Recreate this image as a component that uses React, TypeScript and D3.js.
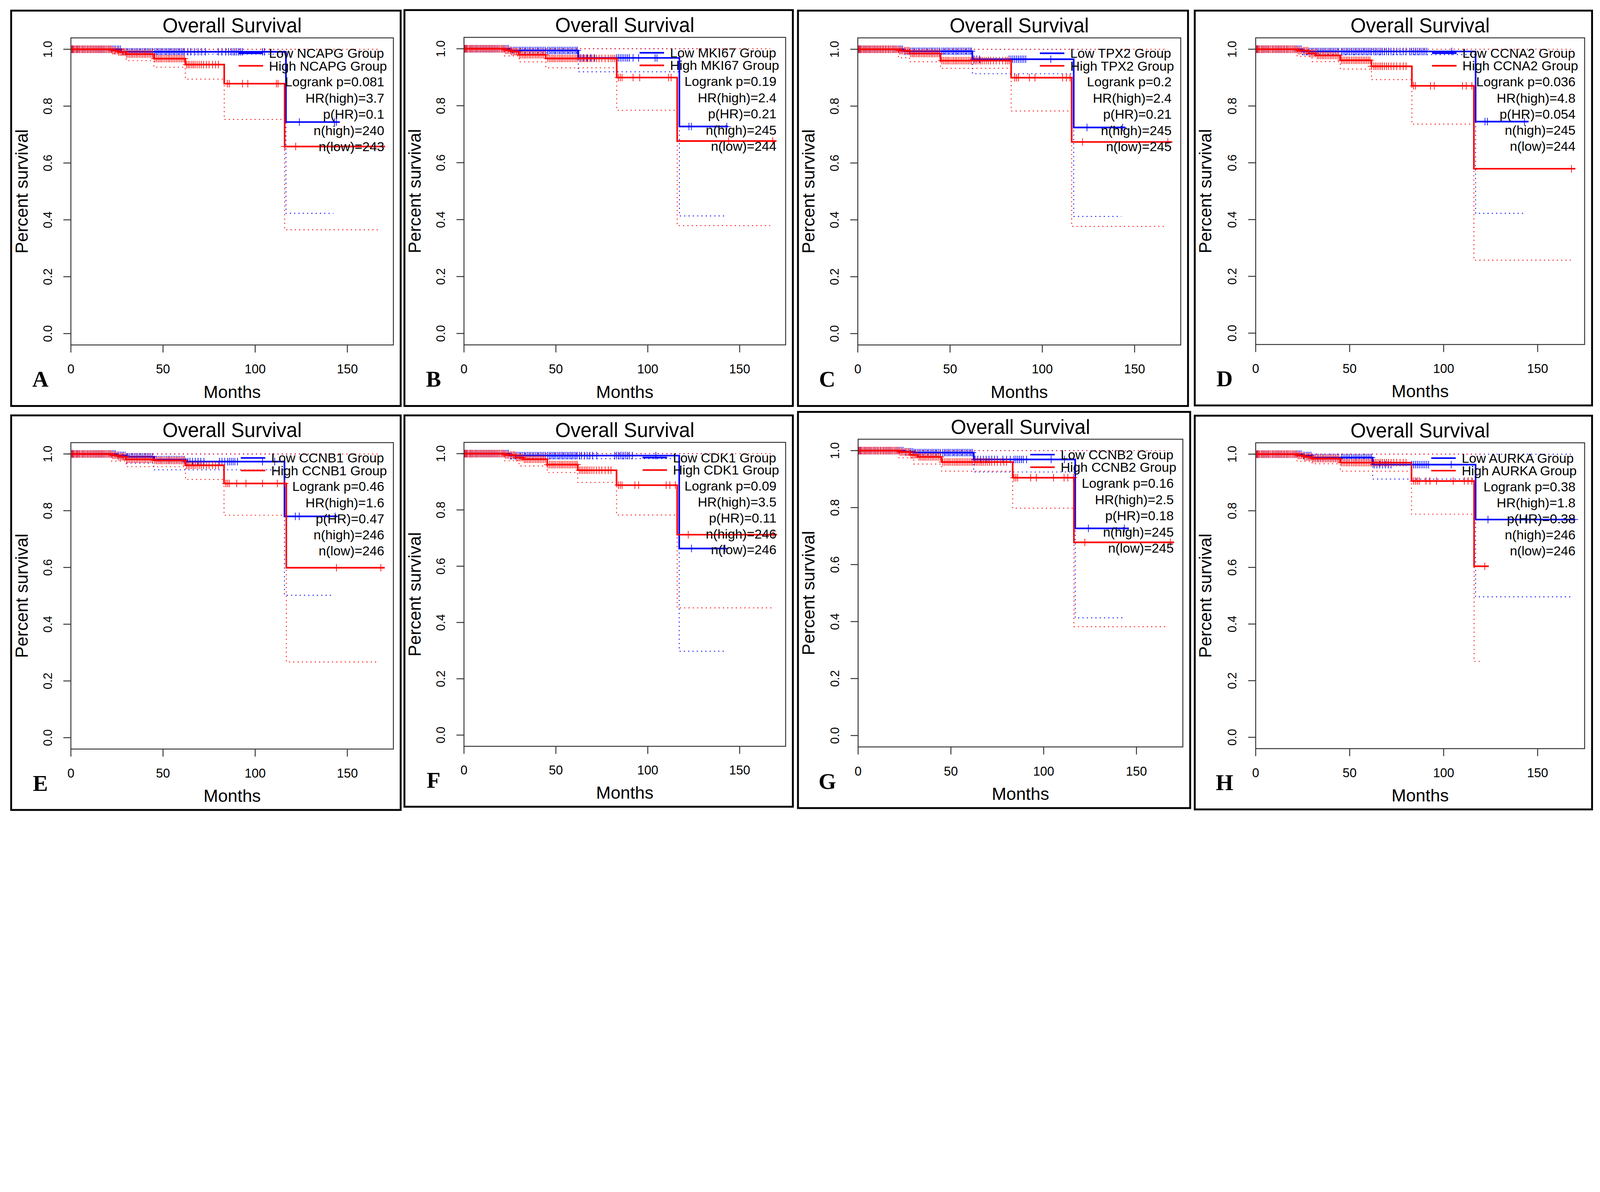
import * as d3 from "d3";

// ---- data ----
const genes = ["NCAPG", "MKI67", "TPX2", "CCNA2", "CCNB1", "CDK1", "CCNB2", "AURKA"];
const letters = ["A", "B", "C", "D", "E", "F", "G", "H"];
const logrankP = ["0.081", "0.19", "0.2", "0.036", "0.46", "0.09", "0.16", "0.38"];
const hrHigh = ["3.7", "2.4", "2.4", "4.8", "1.6", "3.5", "2.5", "1.8"];
const pHR = ["0.1", "0.21", "0.21", "0.054", "0.47", "0.11", "0.18", "0.38"];
const nHigh = [240, 245, 245, 245, 246, 246, 245, 246];
const nLow = [243, 244, 245, 244, 246, 246, 245, 246];

// Kaplan-Meier steps: [month, survival from that month on]
const lowSteps = [
  [[0, 1], [27, 0.991], [116.7, 0.744]],
  [[0, 1], [25, 0.994], [62.2, 0.968], [117.2, 0.727]],
  [[0, 1], [25, 0.993], [62.1, 0.965], [117, 0.725]],
  [[0, 1], [25, 0.992], [117, 0.745]],
  [[0, 1], [25, 0.995], [30, 0.99], [45, 0.98], [62, 0.973], [115.9, 0.78]],
  [[0, 1], [25, 0.993], [117.1, 0.663]],
  [[0, 1], [25, 0.996], [30, 0.993], [62.3, 0.969], [117, 0.727]],
  [[0, 1], [25, 0.995], [30, 0.988], [62.2, 0.963], [117, 0.769]],
];
const lowEnd = [145.9, 143.6, 144.9, 145.2, 144.6, 142.7, 145.9, 170];

const highSteps = [
  [[0, 1], [22, 0.995], [26, 0.99], [30, 0.983], [45, 0.967], [62.1, 0.946], [83.2, 0.879], [116, 0.658]],
  [[0, 1], [22, 0.995], [26, 0.99], [30, 0.979], [44.5, 0.966], [83.1, 0.899], [116, 0.676]],
  [[0, 1], [22, 0.995], [28, 0.985], [44.8, 0.96], [83.1, 0.9], [115.9, 0.674]],
  [[0, 1], [22, 0.995], [28, 0.985], [32, 0.978], [45, 0.961], [61.6, 0.94], [83.1, 0.871], [116.1, 0.579]],
  [[0, 1], [22, 0.995], [26, 0.99], [30, 0.981], [45, 0.977], [62.2, 0.96], [83.1, 0.896], [116.9, 0.599]],
  [[0, 1], [22, 0.995], [28, 0.986], [32, 0.98], [45.3, 0.961], [61.9, 0.941], [83, 0.888], [116, 0.712]],
  [[0, 1], [22, 0.995], [28, 0.985], [32, 0.978], [45, 0.96], [83.3, 0.905], [116.3, 0.678]],
  [[0, 1], [22, 0.995], [26, 0.99], [30, 0.984], [45, 0.97], [82.9, 0.905], [116.2, 0.604]],
];
const highEnd = [170.5, 170, 170.4, 170.1, 170.3, 170.3, 170.2, 124];

// lower 95% confidence bound (upper bound stays at 1.0)
const lowCI = [
  [[0, 1], [27, 0.983], [116.7, 0.423]],
  [[0, 1], [25, 0.986], [62.2, 0.919], [117.2, 0.413]],
  [[0, 1], [25, 0.985], [62.1, 0.914], [117, 0.412]],
  [[0, 1], [25, 0.981], [117, 0.422]],
  [[0, 1], [25, 0.985], [30, 0.968], [45, 0.944], [115.9, 0.502]],
  [[0, 1], [25, 0.982], [117.1, 0.298]],
  [[0, 1], [25, 0.985], [62.3, 0.925], [117, 0.413]],
  [[0, 1], [25, 0.985], [62.2, 0.912], [117, 0.496]],
];
const lowCIEnd = [142.4, 142.9, 142.8, 142.4, 142.5, 142.4, 143.1, 167.8];

const highCI = [
  [[0, 1], [22, 0.985], [30, 0.96], [45, 0.937], [62.1, 0.895], [83.2, 0.753], [116, 0.365]],
  [[0, 1], [22, 0.975], [30, 0.954], [44.5, 0.933], [83.1, 0.784], [116, 0.379]],
  [[0, 1], [22, 0.97], [28, 0.956], [44.8, 0.933], [83.1, 0.783], [115.9, 0.377]],
  [[0, 1], [22, 0.975], [30, 0.956], [45, 0.93], [61.6, 0.893], [83.1, 0.736], [116.1, 0.257]],
  [[0, 1], [22, 0.975], [30, 0.955], [62.2, 0.91], [83.1, 0.784], [116.9, 0.267]],
  [[0, 1], [22, 0.975], [30, 0.956], [45.3, 0.933], [61.9, 0.898], [83, 0.782], [116, 0.452]],
  [[0, 1], [22, 0.975], [30, 0.953], [45, 0.928], [83.3, 0.798], [116.3, 0.382]],
  [[0, 1], [22, 0.975], [30, 0.966], [45, 0.94], [82.9, 0.788], [116.2, 0.268]],
];
const highCIEnd = [167.5, 166.6, 166.9, 167.6, 166.8, 168.2, 167.2, 120.5];

// censoring times (months); the dense early stretches look alike in every panel
const earlyCensor = [0.5, 1, 1.5, 2.2, 3, 3.6, 4.3, 5, 5.8, 6.5, 7.2, 8, 8.8, 9.5, 10.3, 11, 11.8, 12.5, 13.3, 14, 14.8, 15.5, 16.3, 17, 17.8, 18.6, 19.4, 20.2, 21, 21.8, 22.6, 23.4, 24.2];
const band25to45 = [25.2, 26, 26.9, 27.7, 28.5, 29.4, 30.2, 31, 31.9, 32.8, 33.6, 34.5, 35.4, 36.2, 37.1, 38, 38.9, 39.8, 40.6, 41.5, 42.4, 43.3, 44.2];
const band45to62 = [45.6, 46.5, 47.4, 48.3, 49.1, 50, 51, 51.9, 52.8, 53.6, 54.5, 55.4, 56.3, 57.2, 58.1, 59, 59.9, 60.8, 61.6];
const band62to80 = [62.8, 63.7, 64.6, 65.6, 66.5, 67.4, 68.5, 69.6, 70.7, 72, 73.5, 75, 76.8, 78.5, 80];

const lowCensor = [
  [...earlyCensor, ...band25to45, ...band45to62, 63.5, 65, 67, 69, 71, 73, 80, 82, 84, 85.5, 87, 88, 89, 90, 91, 92, 93, 104, 105, 124, 143, 144],
  [...earlyCensor, ...band25to45, ...band45to62, 63.5, 65, 67, 69, 71, 83, 84, 85, 86, 87, 88, 89, 90, 92, 95, 104, 105, 122.4, 123.7, 143],
  [...earlyCensor, ...band25to45, ...band45to62, 63, 64.5, 66, 82, 83, 84, 85, 86, 87, 88, 89, 90, 91, 104.6, 124.2, 143.5],
  [...earlyCensor, ...band25to45, ...band45to62, ...band62to80, 82, 83, 84, 85, 86, 87, 88, 89, 90, 91, 104.3, 122, 123.3, 143],
  [...earlyCensor, ...band25to45, ...band45to62, 62.4, 63.5, 64.6, 66, 67.5, 69, 70.5, 72.2, 80.6, 82, 83.5, 85, 86, 87, 88, 89, 90.4, 104, 110.6, 121.8, 123.9, 143.4],
  [...earlyCensor, ...band25to45, ...band45to62, 62.8, 64, 65.5, 67, 68.5, 70, 72.2, 82, 83, 84, 85, 86, 87, 88, 89, 90, 91.6, 104.4, 123.8, 142],
  [...earlyCensor, ...band25to45, ...band45to62, 63, 64.5, 66, 67.5, 69, 70.5, 72, 73.5, 75, 78, 80, 82, 84, 85, 86, 87, 88, 89, 90.8, 104, 111.2, 124.1, 143.5],
  [...earlyCensor, ...band25to45, ...band45to62, 63, 64.5, 66, 67.5, 69, 70.5, 72, 83, 84, 85, 86, 87, 88, 89, 90, 91, 92, 104, 123.6, 143.7, 169.5],
];
const highCensor = [
  [...earlyCensor, ...band25to45, ...band45to62, ...band62to80, 84.9, 85.9, 93.1, 96, 111.5, 112.4, 116, 122],
  [...earlyCensor, ...band25to45, ...band45to62, ...band62to80, 81, 82, 84, 85, 86, 92, 95.6, 111.3, 112.7, 144, 168],
  [...earlyCensor, ...band25to45, ...band45to62, ...band62to80, 81, 82, 85, 86, 87, 93, 96, 111, 113, 115, 121.8, 168],
  [...earlyCensor, ...band25to45, ...band45to62, ...band62to80, 84, 85, 93, 95, 110, 112, 115, 168],
  [...earlyCensor, ...band25to45, ...band45to62, ...band62to80, 84.1, 85, 85.9, 90, 95, 104, 112, 116, 144.1, 168.2],
  [...earlyCensor, ...band25to45, ...band45to62, ...band62to80, 84, 85, 86, 93, 95, 110, 112, 115, 122, 168.2],
  [...earlyCensor, ...band25to45, ...band45to62, ...band62to80, 84, 85, 86, 93, 96, 105.3, 111, 113, 116, 122.2, 168.3],
  [...earlyCensor, ...band25to45, ...band45to62, ...band62to80, 84, 85, 86, 87, 90.6, 92.7, 96.2, 105.1, 111, 113, 115, 121.9],
];

const xTicks = [0, 50, 100, 150];
const yTicks = [0, 0.2, 0.4, 0.6, 0.8, 1.0];

// ---- layout (outer edges of each framed panel) ----
const panelRects = [
  { x: 38, y: 36, w: 1455, h: 1477 },
  { x: 1500, y: 34, w: 1451, h: 1479 },
  { x: 2963, y: 36, w: 1457, h: 1477 },
  { x: 4438, y: 36, w: 1484, h: 1475 },
  { x: 38, y: 1541, w: 1455, h: 1474 },
  { x: 1500, y: 1541, w: 1451, h: 1462 },
  { x: 2963, y: 1528, w: 1465, h: 1480 },
  { x: 4438, y: 1542, w: 1484, h: 1471 },
];

const W = 5948;
const H = 3052;
const SANS = '"Liberation Sans", Arial, Helvetica, sans-serif';
const SERIF = '"Liberation Serif", "Times New Roman", serif';
const BLUE = "#0000ff";
const RED = "#ff0000";
const LEGEND_SIZE = 49;

let measureCtx: CanvasRenderingContext2D | null = null;
function textWidth(s: string, size: number) {
  if (!measureCtx) measureCtx = document.createElement("canvas").getContext("2d");
  if (!measureCtx) return s.length * size * 0.55;
  measureCtx.font = `${size}px "Liberation Sans"`;
  return measureCtx.measureText(s).width;
}

function survAt(steps: number[][], t: number) {
  let s = steps[0][1];
  for (const [tt, v] of steps) if (tt <= t) s = v;
  return s;
}

const stepLine = d3.line().curve(d3.curveStepAfter);

function Group({ steps, end, ci, ciEnd, censor, color, xs, ys }: any) {
  const curve = [...steps, [end, steps[steps.length - 1][1]]].map(([t, v]: number[]) => [xs(t), ys(v)]);
  const lower = [...ci, [ciEnd, ci[ci.length - 1][1]]].map(([t, v]: number[]) => [xs(t), ys(v)]);
  const upper = [[xs(0), ys(1)], [xs(ciEnd), ys(1)]];
  const marks = censor.filter((t: number) => t <= end);
  const half = 14;
  return (
    <g>
      <path d={stepLine(lower as any) || ""} fill="none" stroke={color} strokeWidth={3.2} strokeDasharray="4 12" />
      <path d={stepLine(upper as any) || ""} fill="none" stroke={color} strokeWidth={3.2} strokeDasharray="4 12" />
      <path d={stepLine(curve as any) || ""} fill="none" stroke={color} strokeWidth={6} />
      {marks.map((t: number, k: number) => {
        const cx = xs(t);
        const cy = ys(survAt(steps, t));
        return (
          <g key={k} stroke={color} strokeWidth={2.5}>
            <line x1={cx} x2={cx} y1={cy - half} y2={cy + half} />
            <line x1={cx - half} x2={cx + half} y1={cy} y2={cy} />
          </g>
        );
      })}
    </g>
  );
}

function Panel({ i }: { i: number }) {
  const r = panelRects[i];
  const bl = r.x + r.w * 0.155;
  const br = r.x + r.w * 0.979;
  const bt = r.y + r.h * 0.071;
  const bb = r.y + r.h * 0.844;
  const bw = br - bl;
  const bh = bb - bt;
  const xs = d3.scaleLinear().domain([0, 175]).range([bl, br]);
  const ys = d3.scaleLinear().domain([-0.04, 1.04]).range([bb, bt]);
  const tickLen = 28;

  const lowLabel = `Low ${genes[i]} Group`;
  const highLabel = `High ${genes[i]} Group`;
  const legW = Math.max(textWidth(lowLabel, LEGEND_SIZE), textWidth(highLabel, LEGEND_SIZE));
  const legX = br - 24 - legW;
  const rows = [0.05, 0.091, 0.143, 0.196, 0.248, 0.301, 0.353].map((f) => bt + f * bh);
  const stats = [
    `Logrank p=${logrankP[i]}`,
    `HR(high)=${hrHigh[i]}`,
    `p(HR)=${pHR[i]}`,
    `n(high)=${nHigh[i]}`,
    `n(low)=${nLow[i]}`,
  ];
  const yLabX = bl - 0.0715 * bw;
  const yTitleX = bl - 0.1535 * bw;

  return (
    <g>
      <rect x={r.x + 3.5} y={r.y + 3.5} width={r.w - 7} height={r.h - 7} fill="none" stroke="#000" strokeWidth={7} />
      <text x={(bl + br) / 2} y={bt - 0.04 * bh} textAnchor="middle" dominantBaseline="central" fontFamily={SANS} fontSize={74}>
        Overall Survival
      </text>
      <Group steps={lowSteps[i]} end={lowEnd[i]} ci={lowCI[i]} ciEnd={lowCIEnd[i]} censor={lowCensor[i]} color={BLUE} xs={xs} ys={ys} />
      <Group steps={highSteps[i]} end={highEnd[i]} ci={highCI[i]} ciEnd={highCIEnd[i]} censor={highCensor[i]} color={RED} xs={xs} ys={ys} />
      <rect x={bl} y={bt} width={bw} height={bh} fill="none" stroke="#333" strokeWidth={3.5} />
      {xTicks.map((t) => (
        <g key={t}>
          <line x1={xs(t)} x2={xs(t)} y1={bb} y2={bb + tickLen} stroke="#333" strokeWidth={3.5} />
          <text x={xs(t)} y={bb + 0.079 * bh} textAnchor="middle" dominantBaseline="central" fontFamily={SANS} fontSize={47}>
            {t}
          </text>
        </g>
      ))}
      {yTicks.map((t) => (
        <g key={t}>
          <line x1={bl} x2={bl - tickLen} y1={ys(t)} y2={ys(t)} stroke="#333" strokeWidth={3.5} />
          <text
            transform={`translate(${yLabX},${ys(t)}) rotate(-90)`}
            textAnchor="middle"
            dominantBaseline="central"
            fontFamily={SANS}
            fontSize={45}
          >
            {d3.format(".1f")(t)}
          </text>
        </g>
      ))}
      <text x={(bl + br) / 2} y={bb + 0.152 * bh} textAnchor="middle" dominantBaseline="central" fontFamily={SANS} fontSize={65}>
        Months
      </text>
      <text
        transform={`translate(${yTitleX},${(bt + bb) / 2}) rotate(-90)`}
        textAnchor="middle"
        dominantBaseline="central"
        fontFamily={SANS}
        fontSize={65}
      >
        Percent survival
      </text>
      {/* legend */}
      <line x1={legX - 113} x2={legX - 22} y1={rows[0]} y2={rows[0]} stroke={BLUE} strokeWidth={6} />
      <line x1={legX - 113} x2={legX - 22} y1={rows[1]} y2={rows[1]} stroke={RED} strokeWidth={6} />
      <text x={legX} y={rows[0]} dominantBaseline="central" fontFamily={SANS} fontSize={LEGEND_SIZE}>
        {lowLabel}
      </text>
      <text x={legX} y={rows[1]} dominantBaseline="central" fontFamily={SANS} fontSize={LEGEND_SIZE}>
        {highLabel}
      </text>
      {stats.map((s, k) => (
        <text key={s} x={br - 34} y={rows[k + 2]} textAnchor="end" dominantBaseline="central" fontFamily={SANS} fontSize={LEGEND_SIZE}>
          {s}
        </text>
      ))}
      <text
        x={r.x + 0.077 * r.w}
        y={r.y + 0.93 * r.h}
        textAnchor="middle"
        dominantBaseline="central"
        fontFamily={SERIF}
        fontWeight="bold"
        fontSize={84}
      >
        {letters[i]}
      </text>
    </g>
  );
}

export default function App() {
  return (
    <>
      <style>{`html,body{margin:0;padding:0;background:#fff;overflow:hidden}`}</style>
      <svg
        viewBox={`0 0 ${W} ${H}`}
        preserveAspectRatio="xMinYMin meet"
        style={{ display: "block", width: "100%", height: "auto", background: "#fff" }}
      >
        {genes.map((_, i) => (
          <Panel key={i} i={i} />
        ))}
      </svg>
    </>
  );
}
